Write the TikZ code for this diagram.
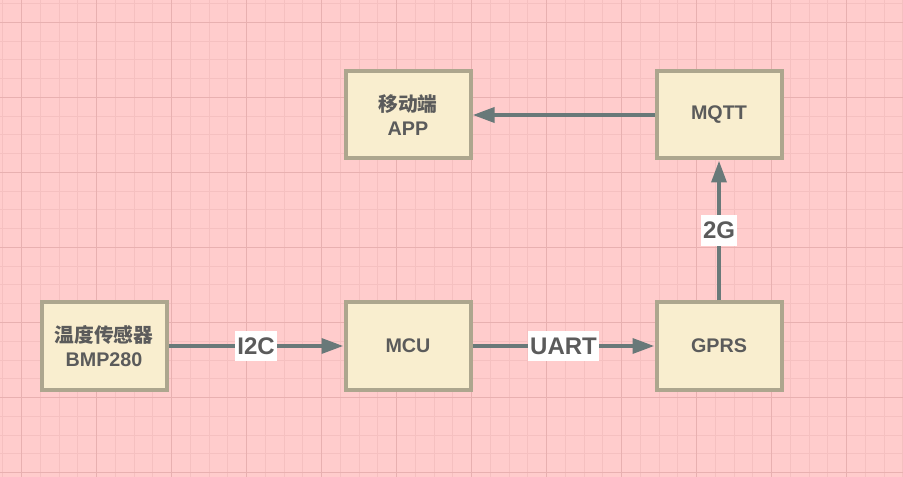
\documentclass[tikz,border=0pt]{standalone}
\usepackage{fontspec}
\setmainfont{Liberation Sans}
\newfontfamily\cjk{Noto Sans CJK SC}
\usetikzlibrary{arrows.meta,positioning}

\definecolor{bgpink}{HTML}{FFCCCC}
\definecolor{gridminor}{HTML}{F5C0C0}
\definecolor{gridmajor}{HTML}{E8B0B0}
\definecolor{boxfill}{HTML}{F9EECF}
\definecolor{boxline}{HTML}{ADA68E}
\definecolor{linkgray}{HTML}{697979}
\definecolor{textgray}{HTML}{5B5B5B}

\tikzset{
  block/.style={draw=boxline, fill=boxfill, line width=3pt,
    minimum width=93.75pt, minimum height=65.25pt, align=center,
    text=textgray, font=\fontsize{14.8}{17.5}\selectfont\bfseries},
  link/.style={draw=linkgray, line width=3.2pt,
    -{Triangle[length=16.5pt,width=11pt]}},
  tag/.style={fill=white, text=textgray, inner xsep=1.5pt,
    minimum height=23pt, font=\fontsize{18}{20}\selectfont\bfseries}
}

\begin{document}
\begin{tikzpicture}[x=0.75pt, y=-0.75pt]
  \useasboundingbox (0,0) rectangle (903,477);
  \fill[bgpink] (0,0) rectangle (903,477);
  % grid
  \foreach \i in {0,...,48}
    \draw[gridminor, line width=0.75pt] (2.75+18.75*\i,0) -- (2.75+18.75*\i,477);
  \foreach \i in {0,...,25}
    \draw[gridminor, line width=0.75pt] (0,3.75+18.75*\i) -- (903,3.75+18.75*\i);
  \foreach \i in {0,...,11}
    \draw[gridmajor, line width=0.75pt] (21.5+75*\i,0) -- (21.5+75*\i,477);
  \foreach \i in {0,...,6}
    \draw[gridmajor, line width=0.75pt] (0,22.5+75*\i) -- (903,22.5+75*\i);

  % blocks
  \node[block] (sensor) at (104,346) {{\cjk 温度传感器}\\BMP280};
  \node[block] (mcu) at (408,346) {MCU};
  \node[block] (gprs) at (719,346) {GPRS};
  \node[block] (mqtt) at (719,115) {MQTT};
  \node[block] (app) at (408,115) {{\cjk 移动端}\\APP};

  % links
  \draw[link] (sensor) -- node[tag] {I2C} (mcu);
  \draw[link] (mcu) -- node[tag] {UART} (gprs);
  \draw[link] (gprs) -- node[tag] {2G} (mqtt);
  \draw[link] (mqtt) -- (app);
\end{tikzpicture}
\end{document}
